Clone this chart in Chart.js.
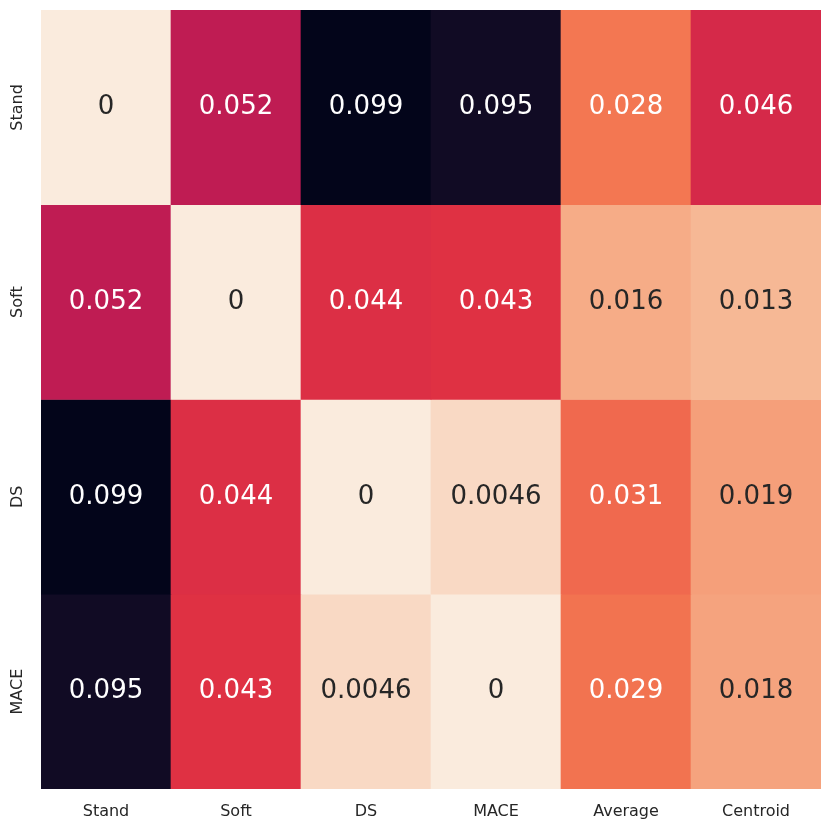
<!DOCTYPE html>
<html>
<head>
<meta charset="utf-8">
<script src="https://cdn.jsdelivr.net/npm/chart.js@4.4.1/dist/chart.umd.min.js"></script>
<style>
  html, body { margin: 0; padding: 0; background: #fff; }
</style>
</head>
<body>
<canvas id="heat" width="831" height="831"></canvas>
<script>
// columns and rows of the distance matrix
var columns = ['Stand', 'Soft', 'DS', 'MACE', 'Average', 'Centroid']
var rows = ['Stand', 'Soft', 'DS', 'MACE']

var standRow = [0, 0.052, 0.099, 0.095, 0.028, 0.046]
var softRow = [0.052, 0, 0.044, 0.043, 0.016, 0.013]
var dsRow = [0.099, 0.044, 0, 0.0046, 0.031, 0.019]
var maceRow = [0.095, 0.043, 0.0046, 0, 0.029, 0.018]

var matrix = [standRow, softRow, dsRow, maceRow]

// seaborn "rocket" colormap stops (position, colour), used reversed
var rocketPos = [0, 1/7, 2/7, 3/7, 0.5, 4/7, 5/7, 6/7, 1]
var rocketHex = ['#03051a', '#35193e', '#701f57', '#ad1759', '#c91f4f', '#e13342', '#f37651', '#f6b48f', '#faebdd']

var vmax = Math.max.apply(null, matrix.map(r => Math.max.apply(null, r)))

function hexToRgb(h){
    return [parseInt(h.substr(1,2),16), parseInt(h.substr(3,2),16), parseInt(h.substr(5,2),16)]
}

function rocketR(v){
    var t = 1 - v / vmax
    var i = 0
    while (i < rocketPos.length - 2 && t > rocketPos[i+1]) i++
    var f = (t - rocketPos[i]) / (rocketPos[i+1] - rocketPos[i])
    var a = hexToRgb(rocketHex[i]), b = hexToRgb(rocketHex[i+1])
    return a.map((c, k) => Math.round(c + (b[k] - c) * f))
}

function cellColor(v){
    return 'rgb(' + rocketR(v).join(',') + ')'
}

function textColor(v){
    var lum = rocketR(v).map(c => {
        c = c / 255
        return c <= 0.03928 ? c / 12.92 : Math.pow((c + 0.055) / 1.055, 2.4)
    })
    var l = 0.2126 * lum[0] + 0.7152 * lum[1] + 0.0722 * lum[2]
    return l > 0.408 ? '#262626' : '#ffffff'
}

function fmt(v){
    return String(Number(v.toPrecision(2)))
}

var datasets = rows.map((name, i) => ({
    label: name,
    data: columns.map(() => [i, i + 1]),
    backgroundColor: matrix[i].map(cellColor),
    borderWidth: 0,
    barPercentage: 1,
    categoryPercentage: 1,
    grouped: false
}))

const annotate = {
    id: 'annotate',
    afterDatasetsDraw(chart){
        const ctx = chart.ctx
        const xs = chart.scales.x, ys = chart.scales.y
        ctx.save()
        ctx.textAlign = 'center'
        ctx.textBaseline = 'middle'
        ctx.font = '26px "DejaVu Sans"'
        matrix.forEach((row, i) => {
            row.forEach((v, j) => {
                ctx.fillStyle = textColor(v)
                ctx.fillText(fmt(v), xs.getPixelForValue(j), ys.getPixelForValue(i + 0.5))
            })
        })
        // row labels, rotated like seaborn
        ctx.font = '16px "DejaVu Sans"'
        ctx.fillStyle = '#262626'
        rows.forEach((name, i) => {
            ctx.save()
            ctx.translate(18, ys.getPixelForValue(i + 0.5))
            ctx.rotate(-Math.PI / 2)
            ctx.fillText(name, 0, 0)
            ctx.restore()
        })
        ctx.restore()
    }
}

new Chart(document.getElementById('heat'), {
    type: 'bar',
    data: { labels: columns, datasets: datasets },
    plugins: [annotate],
    options: {
        responsive: false,
        animation: false,
        layout: { padding: { left: 41, right: 10, top: 10, bottom: 0 } },
        plugins: { legend: { display: false }, tooltip: { enabled: false } },
        scales: {
            x: {
                grid: { display: false, drawTicks: false },
                border: { display: false },
                ticks: { color: '#262626', font: { family: 'DejaVu Sans', size: 16 }, padding: 13 },
                afterFit(scale){ scale.height = 42 }
            },
            y: {
                display: false,
                min: 0,
                max: rows.length,
                reverse: true
            }
        }
    }
})
</script>
</body>
</html>
